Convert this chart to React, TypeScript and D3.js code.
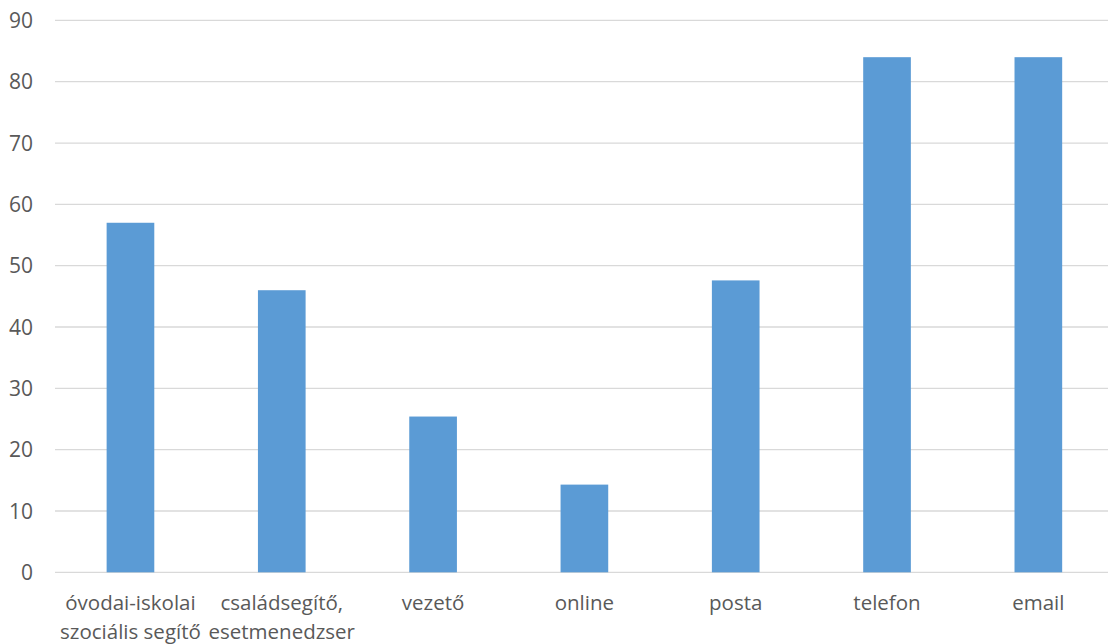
import React from "react";
import * as d3 from "d3";

const categories: string[][] = [
  ["óvodai-iskolai", "szociális segítő"],
  ["családsegítő,", "esetmenedzser"],
  ["vezető"],
  ["online"],
  ["posta"],
  ["telefon"],
  ["email"],
];
const values: number[] = [57, 46, 25.4, 14.3, 47.6, 84, 84];
const yTicks: number[] = [0, 10, 20, 30, 40, 50, 60, 70, 80, 90];

const W = 1108;
const H = 644;
const FONT = "'Open Sans', sans-serif";

export default function App() {
  const keys = categories.map((_, i) => String(i));
  const x = d3.scaleBand<string>().domain(keys).range([54.8, 1114]).paddingInner(0.685).paddingOuter(0.3425);
  const y = d3.scaleLinear().domain([0, 90]).range([572.3, 20.4]);
  return (
    <svg width={W} height={H} style={{ position: "absolute", left: 0, top: 0, background: "#fff" }}>
      {yTicks.map((t) => (
        <g key={t}>
          <line x1={55} x2={W} y1={y(t)} y2={y(t)} stroke="#D9D9D9" strokeWidth={1.3} />
          <text x={33} y={y(t)} dy="0.36em" textAnchor="end" fontFamily={FONT} fontSize={21} fill="#595959">
            {t}
          </text>
        </g>
      ))}
      {values.map((v, i) => (
        <rect key={i} x={x(String(i))} width={x.bandwidth()} y={y(v)} height={y(0) - y(v)} fill="#5B9BD5" />
      ))}
      {categories.map((lines, i) => (
        <text key={i} textAnchor="middle" fontFamily={FONT} fontSize={20.5} fill="#595959">
          {lines.map((l, j) => (
            <tspan key={j} x={(x(String(i)) as number) + x.bandwidth() / 2} y={610 + j * 28.5}>
              {l}
            </tspan>
          ))}
        </text>
      ))}
    </svg>
  );
}
